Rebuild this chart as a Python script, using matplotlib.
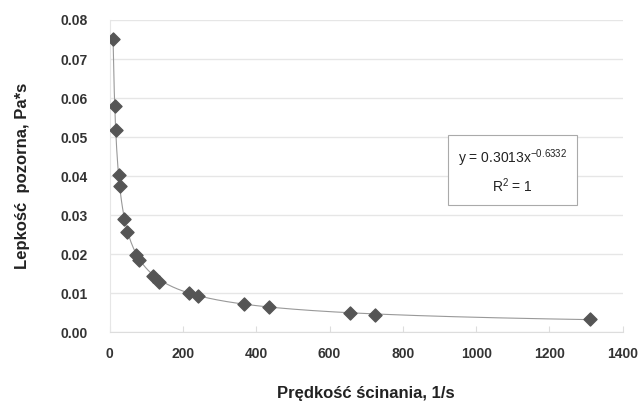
import numpy as np
import matplotlib.pyplot as plt

# shear rate [1/s] and apparent viscosity [Pa*s]
shear_rate = [9, 13.5, 16, 24, 27, 40, 48, 72, 80, 118, 135, 215, 240, 365, 435, 655, 725, 1310]
viscosity = [0.0752, 0.0580, 0.0518, 0.0402, 0.0375, 0.0291, 0.0257, 0.0198, 0.0185,
             0.0143, 0.0129, 0.0100, 0.0093, 0.0073, 0.0064, 0.0050, 0.0045, 0.0033]

# power trendline shown on the chart
fit_a = 0.3013
fit_b = -0.6332

xticks = [0, 200, 400, 600, 800, 1000, 1200, 1400]
yticks = [0.00, 0.01, 0.02, 0.03, 0.04, 0.05, 0.06, 0.07, 0.08]

plt.rcParams['font.family'] = ['Liberation Sans', 'DejaVu Sans']
plt.rcParams['mathtext.fontset'] = 'custom'
plt.rcParams['mathtext.rm'] = 'Liberation Sans'
plt.rcParams['mathtext.it'] = 'Liberation Sans'

fig = plt.figure(figsize=(6.42, 4.08), dpi=100)
ax = fig.add_axes([0.171, 0.186, 0.799, 0.765])

xs = np.linspace(min(shear_rate), max(shear_rate), 400)
ax.plot(xs, fit_a * xs ** fit_b, color='#999999', lw=0.8, zorder=2)
ax.scatter(shear_rate, viscosity, marker='D', s=44, color='#555555', zorder=3)

ax.set_xlim(0, 1400)
ax.set_ylim(0, 0.08)
ax.set_xticks(xticks)
ax.set_yticks(yticks)
ax.set_xticklabels([str(t) for t in xticks], fontweight='bold', fontsize=10, color='#333333')
ax.set_yticklabels(['%.2f' % t for t in yticks], fontweight='bold', fontsize=10, color='#333333')
ax.tick_params(axis='y', length=0, pad=16)
ax.tick_params(axis='x', length=4, direction='in', color='#dddddd', pad=11)

ax.grid(axis='y', color='#e6e6e6', lw=1)
ax.set_axisbelow(True)
for s in ['top', 'right']:
    ax.spines[s].set_visible(False)
ax.spines['left'].set_color('#e6e6e6')
ax.spines['bottom'].set_color('#dddddd')

ax.set_xlabel('Prędkość ścinania, 1/s', fontweight='bold', fontsize=12, labelpad=18, color='#222222')
ax.set_ylabel('Lepkość  pozorna, Pa*s', fontweight='bold', fontsize=12, labelpad=22, color='#222222')

ax.text(0.785, 0.515, 'y = 0.3013x$^{\\mathrm{-0.6332}}$\nR$^{\\mathrm{2}}$ = 1', transform=ax.transAxes,
        ha='center', va='center', fontsize=10, color='#222222', linespacing=1.5,
        bbox=dict(boxstyle='square,pad=0.7', fc='white', ec='#aaaaaa', lw=0.8))

fig.savefig('out.png', dpi=100)
